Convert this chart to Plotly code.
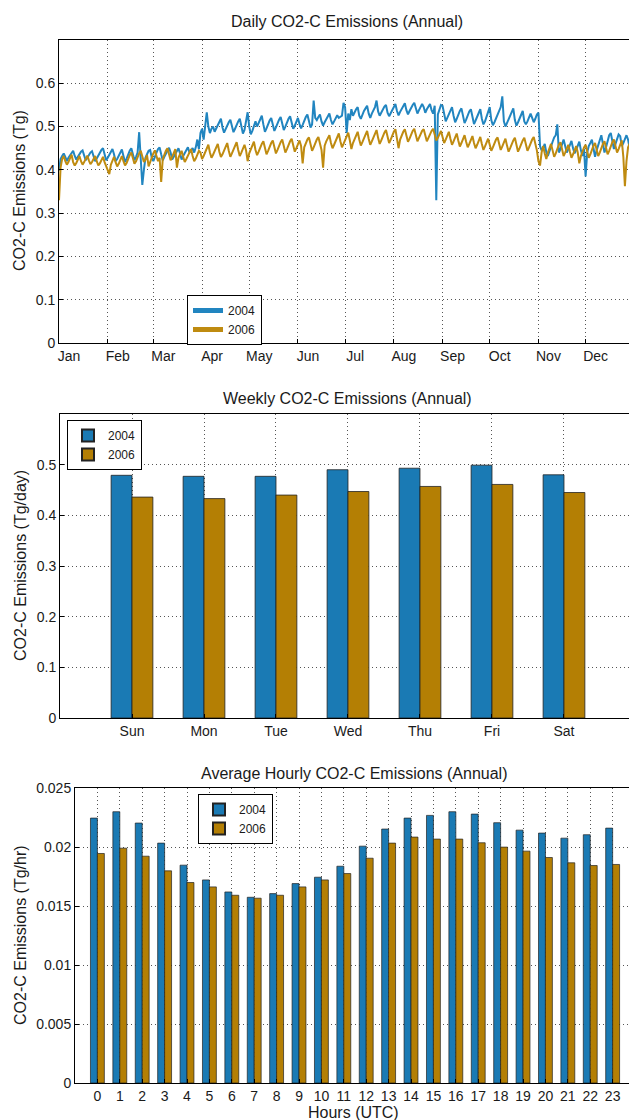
import plotly.graph_objects as go

# ---------------- DATA ----------------
# Daily emissions in units of 0.001 Tg, one row per week
daily_2004_mTg = [
    398, 425, 432, 438, 430, 420, 428,
    434, 440, 444, 432, 424, 430, 437,
    442, 445, 430, 422, 428, 436, 440,
    443, 428, 420, 426, 434, 441, 446,
    450, 432, 422, 428, 436, 444, 448,
    436, 420, 425, 433, 440, 447, 432,
    418, 426, 436, 444, 450, 438, 422,
    430, 440, 487, 420, 365, 400, 428,
    436, 444, 446, 428, 420, 432, 440,
    448, 452, 436, 422, 430, 438, 446,
    451, 440, 424, 430, 438, 445, 450,
    438, 424, 432, 440, 447, 452, 440,
    445, 450, 440, 452, 470, 448, 485,
    495, 470, 510, 533, 500, 485, 495,
    500, 488, 495, 505, 512, 518, 498,
    486, 494, 503, 510, 516, 500, 487,
    495, 505, 512, 518, 498, 484, 492,
    512, 533, 500, 482, 490, 502, 512,
    500, 510, 518, 525, 505, 488, 496,
    506, 514, 520, 503, 490, 498, 508,
    516, 522, 505, 492, 500, 510, 518,
    524, 508, 495, 502, 512, 520, 506,
    496, 504, 514, 522, 528, 510, 498,
    505, 560, 520, 515, 522, 528, 512,
    502, 510, 518, 524, 530, 515, 505,
    512, 520, 526, 520, 522, 525, 555,
    545, 485, 530, 515, 540, 525, 535,
    540, 545, 525, 518, 528, 536, 542,
    548, 530, 520, 530, 538, 545, 560,
    535, 525, 532, 540, 546, 550, 532,
    524, 532, 540, 548, 552, 536, 526,
    534, 542, 550, 554, 538, 528, 536,
    544, 550, 555, 540, 530, 538, 546,
    552, 545, 532, 540, 548, 552, 538,
    530, 548, 330, 528, 540, 550, 548,
    530, 512, 520, 530, 538, 545, 525,
    510, 518, 528, 536, 542, 522, 508,
    516, 526, 535, 540, 520, 506, 514,
    524, 533, 540, 518, 505, 512, 522,
    532, 545, 515, 503, 510, 520, 530,
    538, 545, 570, 512, 500, 508, 518,
    528, 536, 542, 515, 502, 510, 520,
    530, 536, 512, 505, 512, 522, 530,
    520, 510, 518, 528, 532, 455, 445,
    450, 460, 440, 432, 445, 455, 465,
    475, 480, 505, 440, 448, 458, 470,
    455, 440, 448, 458, 467, 450, 438,
    446, 456, 465, 445, 432, 448, 385,
    440, 455, 462, 470, 450, 430, 445,
    458, 470, 480, 460, 440, 452, 468,
    480, 485, 462, 448, 460, 472, 482,
    478, 455, 462, 472, 480, 470, 450,
    455, 460,
]

daily_2006_mTg = [
    330, 405, 425, 432, 420, 412, 418,
    428, 435, 418, 410, 416, 425, 432,
    420, 412, 418, 426, 433, 422, 413,
    418, 426, 432, 420, 410, 415, 424,
    430, 418, 408, 395, 390, 412, 422,
    430, 418, 408, 414, 423, 432, 420,
    410, 416, 426, 434, 440, 425, 414,
    420, 430, 438, 444, 430, 418, 424,
    434, 408, 420, 428, 438, 445, 432,
    420, 428, 372, 425, 436, 444, 450,
    435, 422, 430, 440, 448, 405, 428,
    436, 444, 430, 418, 425, 434, 442,
    448, 432, 420, 426, 436, 444, 440,
    425, 432, 442, 452, 458, 440, 428,
    435, 444, 452, 460, 442, 430, 436,
    446, 454, 462, 444, 430, 438, 448,
    456, 464, 446, 432, 440, 450, 458,
    445, 420, 438, 448, 456, 465, 446,
    434, 442, 452, 460, 466, 448, 436,
    444, 454, 462, 468, 450, 438, 446,
    456, 464, 470, 452, 440, 448, 458,
    466, 472, 454, 442, 450, 460, 468,
    455, 415, 452, 462, 470, 475, 456,
    444, 452, 462, 470, 476, 458, 446,
    405, 456, 466, 474, 480, 462, 450,
    458, 468, 476, 484, 466, 452, 460,
    470, 478, 486, 468, 448, 462, 472,
    480, 488, 470, 456, 464, 474, 482,
    490, 472, 458, 466, 476, 484, 492,
    474, 460, 468, 478, 486, 492, 475,
    462, 470, 480, 488, 494, 476, 450,
    470, 480, 488, 494, 478, 465, 472,
    482, 490, 495, 478, 466, 474, 484,
    490, 494, 478, 466, 474, 484, 490,
    495, 480, 468, 474, 484, 490, 476,
    462, 470, 480, 488, 472, 458, 466,
    476, 484, 468, 454, 462, 472, 480,
    465, 452, 460, 470, 478, 462, 450,
    458, 468, 476, 460, 446, 454, 464,
    472, 458, 444, 452, 462, 470, 475,
    460, 446, 454, 464, 472, 456, 442,
    450, 460, 468, 474, 456, 442, 450,
    460, 468, 474, 458, 444, 452, 462,
    470, 476, 460, 445, 420, 410, 440,
    455, 438, 425, 440, 452, 460, 445,
    430, 438, 450, 458, 464, 448, 432,
    440, 450, 458, 442, 428, 436, 448,
    455, 440, 415, 432, 444, 452, 458,
    440, 428, 436, 448, 456, 462, 445,
    432, 440, 452, 460, 466, 448, 436,
    444, 456, 464, 470, 452, 440, 448,
    460, 468, 430, 362, 420, 452, 460,
    455,
]

month_labels = ["Jan", "Feb", "Mar", "Apr", "May", "Jun",
                "Jul", "Aug", "Sep", "Oct", "Nov", "Dec"]
month_start_day = [1, 32, 61, 92, 122, 153, 183, 214, 245, 275, 306, 336]

weekdays = ["Sun", "Mon", "Tue", "Wed", "Thu", "Fri", "Sat"]
weekly_2004 = [0.479, 0.477, 0.477, 0.490, 0.493, 0.499, 0.480]
weekly_2006 = [0.436, 0.433, 0.440, 0.447, 0.457, 0.461, 0.445]

hours = list(range(24))
hourly_2004 = [0.02245, 0.02299, 0.02203, 0.02033, 0.01846, 0.01721, 0.01619, 0.01574,
               0.01605, 0.01690, 0.01744, 0.01837, 0.02007, 0.02152, 0.02245, 0.02268,
               0.02299, 0.02279, 0.02206, 0.02143, 0.02118, 0.02075, 0.02104, 0.02160]
hourly_2006 = [0.01945, 0.01990, 0.01922, 0.01798, 0.01699, 0.01662, 0.01591, 0.01566,
               0.01591, 0.01662, 0.01721, 0.01775, 0.01905, 0.02033, 0.02084, 0.02067,
               0.02067, 0.02036, 0.01999, 0.01965, 0.01911, 0.01866, 0.01843, 0.01852]

# ---------------- STYLE ----------------
W, H = 629, 1120
BLUE_LINE = "#2185c0"
GOLD_LINE = "#bf8b10"
BLUE_BAR = "#1a7ab4"
GOLD_BAR = "#b47f04"
FONT = "Liberation Sans, Arial, sans-serif"
TXT = "#1a1a1a"


def px_x(x):
    return x / W


def px_y(y):
    return 1 - y / H


fig = go.Figure()

d04 = [v / 1000 for v in daily_2004_mTg]
d06 = [v / 1000 for v in daily_2006_mTg]

fig.add_trace(go.Scatter(x=list(range(1, len(d04) + 1)), y=d04, mode="lines", name="2004",
                         line=dict(color=BLUE_LINE, width=2), xaxis="x", yaxis="y",
                         legend="legend"))
fig.add_trace(go.Scatter(x=list(range(1, len(d06) + 1)), y=d06, mode="lines", name="2006",
                         line=dict(color=GOLD_LINE, width=2), xaxis="x", yaxis="y",
                         legend="legend"))

wk_x = list(range(1, 8))
bw2 = 0.29
fig.add_trace(go.Bar(x=wk_x, y=weekly_2004, name="2004", width=bw2, offset=-bw2,
                     marker=dict(color=BLUE_BAR, line=dict(color="#222", width=0.8)),
                     xaxis="x2", yaxis="y2", legend="legend2"))
fig.add_trace(go.Bar(x=wk_x, y=weekly_2006, name="2006", width=bw2, offset=0,
                     marker=dict(color=GOLD_BAR, line=dict(color="#222", width=0.8)),
                     xaxis="x2", yaxis="y2", legend="legend2"))

bw3 = 0.31
fig.add_trace(go.Bar(x=hours, y=hourly_2004, name="2004", width=bw3, offset=-bw3,
                     marker=dict(color=BLUE_BAR, line=dict(color="#222", width=0.7)),
                     xaxis="x3", yaxis="y3", legend="legend3"))
fig.add_trace(go.Bar(x=hours, y=hourly_2006, name="2006", width=bw3, offset=0,
                     marker=dict(color=GOLD_BAR, line=dict(color="#222", width=0.7)),
                     xaxis="x3", yaxis="y3", legend="legend3"))

grid = dict(showgrid=True, gridcolor="#555", griddash="1px,3px", gridwidth=1, zeroline=False,
            showline=True, linecolor="black", linewidth=1, ticks="inside", ticklen=4,
            tickcolor="black", automargin=False,
            tickfont=dict(family=FONT, size=14, color=TXT))

fig.update_layout(
    xaxis=dict(domain=[px_x(59), 1], anchor="y", range=[1, 363.6],
               tickvals=month_start_day, ticktext=month_labels, ticklabelshift=10,
               mirror=True, **grid),
    yaxis=dict(domain=[px_y(343), px_y(40)], anchor="x", range=[0, 0.7],
               tickvals=[0, 0.1, 0.2, 0.3, 0.4, 0.5, 0.6],
               ticktext=["0", "0.1", "0.2", "0.3", "0.4", "0.5", "0.6"], **grid),
    xaxis2=dict(domain=[px_x(60), 1], anchor="y2", range=[0, 7.903],
                tickvals=wk_x, ticktext=weekdays, mirror=True, **grid),
    yaxis2=dict(domain=[px_y(718), px_y(414)], anchor="x2", range=[0, 0.6],
                tickvals=[0, 0.1, 0.2, 0.3, 0.4, 0.5],
                ticktext=["0", "0.1", "0.2", "0.3", "0.4", "0.5"], **grid),
    xaxis3=dict(domain=[px_x(75), 1], anchor="y3", range=[-1, 23.73],
                tickvals=hours, ticktext=[str(h) for h in hours], mirror=True, **grid),
    yaxis3=dict(domain=[px_y(1083), px_y(788)], anchor="x3", range=[0, 0.025],
                tickvals=[0, 0.005, 0.01, 0.015, 0.02, 0.025],
                ticktext=["0", "0.005", "0.01", "0.015", "0.02", "0.025"], **grid),
)

leg = dict(bgcolor="white", bordercolor="black", borderwidth=1,
           font=dict(family=FONT, size=12, color=TXT), xanchor="left", yanchor="top",
           tracegroupgap=0, itemsizing="constant")
fig.update_layout(
    legend=dict(x=px_x(187), y=px_y(295), **leg),
    legend2=dict(x=px_x(67), y=px_y(420), **leg),
    legend3=dict(x=px_x(198), y=px_y(794), **leg),
)

annotations = []
for text, cx, cy in [("Daily CO2-C Emissions (Annual)", 347, 21),
                     ("Weekly CO2-C Emissions (Annual)", 347, 398),
                     ("Average Hourly CO2-C Emissions (Annual)", 354, 773)]:
    annotations.append(dict(text=text, x=px_x(cx), y=px_y(cy), xref="paper", yref="paper",
                            showarrow=False, xanchor="center", yanchor="middle",
                            font=dict(family=FONT, size=16, color=TXT)))
for text, cy in [("CO2-C Emissions (Tg)", 191),
                 ("CO2-C Emissions (Tg/day)", 566),
                 ("CO2-C Emissions (Tg/hr)", 935)]:
    annotations.append(dict(text=text, x=px_x(20), y=px_y(cy), xref="paper", yref="paper",
                            showarrow=False, xanchor="center", yanchor="middle",
                            textangle=-90, font=dict(family=FONT, size=16, color=TXT)))
annotations.append(dict(text="Hours (UTC)", x=px_x(353), y=px_y(1112), xref="paper",
                        yref="paper", showarrow=False, xanchor="center", yanchor="middle",
                        font=dict(family=FONT, size=16, color=TXT)))

fig.update_layout(
    width=W, height=H, margin=dict(l=0, r=0, t=0, b=0, autoexpand=False),
    paper_bgcolor="white", plot_bgcolor="white",
    annotations=annotations, showlegend=True, barmode="overlay",
)

fig.write_html("out.html", config={"displayModeBar": False},
               post_script="document.body.style.margin='0px';"
                           "document.body.style.overflow='hidden';")
